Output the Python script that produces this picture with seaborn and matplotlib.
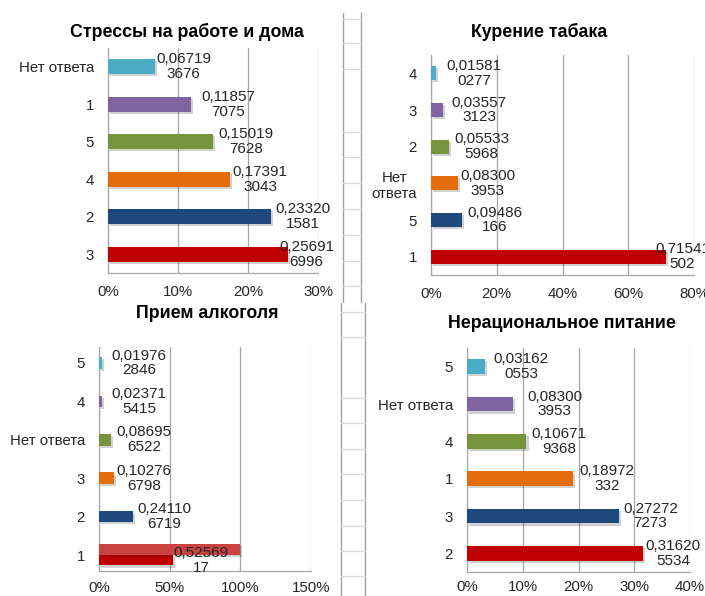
import matplotlib
matplotlib.use('Agg')
import matplotlib.pyplot as plt
import matplotlib.patheffects as pe
from matplotlib.lines import Line2D
from matplotlib.ticker import PercentFormatter
import seaborn as sns

# ---------------- data ----------------
bar_colors = ['#4BACC6', '#8064A2', '#77933C', '#E46C0A', '#1F497D', '#C00000']

stress_title = 'Стрессы на работе и дома'
stress_cats = ['Нет ответа', '1', '5', '4', '2', '3']
stress_vals = [0.067193676, 0.118577075, 0.150197628, 0.173913043, 0.233201581, 0.256916996]
stress_ticks = [0, 0.1, 0.2, 0.3]

smoke_title = 'Курение табака'
smoke_cats = ['4', '3', '2', 'Нет\nответа', '5', '1']
smoke_vals = [0.015810277, 0.035573123, 0.055335968, 0.083003953, 0.09486166, 0.71541502]
smoke_ticks = [0, 0.2, 0.4, 0.6, 0.8]

alco_title = 'Прием алкоголя'
alco_cats = ['5', '4', 'Нет ответа', '3', '2', '1']
alco_vals = [0.019762846, 0.023715415, 0.086956522, 0.102766798, 0.241106719, 0.5256917]
alco_ticks = [0, 0.5, 1.0, 1.5]
alco_extra_cat = '1'
alco_extra_val = 1.0

food_title = 'Нерациональное питание'
food_cats = ['5', 'Нет ответа', '4', '1', '3', '2']
food_vals = [0.031620553, 0.083003953, 0.106719368, 0.18972332, 0.272727273, 0.316205534]
food_ticks = [0, 0.1, 0.2, 0.3, 0.4]

# ---------------- style ----------------
sns.set_style('white')
plt.rcParams['font.family'] = ['Liberation Sans', 'DejaVu Sans']

W, H = 705, 596
fig = plt.figure(figsize=(W / 100, H / 100), dpi=100)
fig.patch.set_facecolor('white')

GRID = '#A6A6A6'
TXT = '#262626'


def px_axes(left, top, right, bottom):
    return fig.add_axes([left / W, 1 - bottom / H, (right - left) / W, (bottom - top) / H])


def label_text(v):
    s = repr(v).replace('.', ',')
    return s[:7] + '\n' + s[7:]


shadow = [pe.SimplePatchShadow(offset=(1.5, -1.5), shadow_rgbFace='k', alpha=0.18), pe.Normal()]

# layout / styling per panel (label gaps in pixels, as placed in the original)
panels = [
    dict(title=stress_title, cats=stress_cats, vals=stress_vals, ticks=stress_ticks,
         box=(108, 48, 318, 273), tpos=(187, 32), bw=0.40, limit=334, xpad=9,
         gaps=[1, 10, 5, 3, 4, 4]),
    dict(title=smoke_title, cats=smoke_cats, vals=smoke_vals, ticks=smoke_ticks,
         box=(431, 55, 694, 275), tpos=(539, 32), bw=0.38, limit=710, xpad=9,
         gaps=[10, 9, 5, 2, 5, 4]),
    dict(title=alco_title, cats=alco_cats, vals=alco_vals, ticks=alco_ticks,
         box=(99, 347, 311, 571), tpos=(207, 313), bw=0.30, limit=360, xpad=7,
         gaps=[10, 9, 5, 3, 4, 0]),
    dict(title=food_title, cats=food_cats, vals=food_vals, ticks=food_ticks,
         box=(467, 348, 690, 572), tpos=(562, 323), bw=0.40, limit=704, xpad=6,
         gaps=[9, 14, 5, 7, 4, 2]),
]

annotations = []
for k, p in enumerate(panels):
    ax = px_axes(*p['box'])
    sns.barplot(x=p['vals'], y=p['cats'], hue=p['cats'], palette=bar_colors,
                legend=False, orient='h', width=p['bw'], saturation=1,
                linewidth=0, edgecolor='none', ax=ax)
    for patch in ax.patches:
        patch.set_path_effects(shadow)
        patch.set_zorder(3)
    ax.set_xlim(p['ticks'][0], p['ticks'][-1])
    ax.set_xticks(p['ticks'])
    ax.xaxis.set_major_formatter(PercentFormatter(1.0, decimals=0))
    ax.set_axisbelow(True)
    ax.grid(axis='x', color=GRID, linewidth=0.9)
    ax.grid(axis='y', visible=False)
    for side in ['top', 'right']:
        ax.spines[side].set_visible(False)
    for side in ['left', 'bottom']:
        ax.spines[side].set_color(GRID)
        ax.spines[side].set_linewidth(0.9)
    ax.tick_params(axis='y', length=0, pad=10, labelsize=10.8, labelcolor=TXT)
    ax.tick_params(axis='x', length=0, pad=p['xpad'], labelsize=10.8, labelcolor=TXT)
    for t in ax.get_yticklabels():
        t.set_multialignment('center')
    ax.set_xlabel('')
    ax.set_ylabel('')
    fig.text(p['tpos'][0] / W, 1 - p['tpos'][1] / H, p['title'], ha='center', va='center',
             fontsize=12.8, fontweight='bold', color='black')

    label_y = {i: i for i in range(len(p['cats']))}
    if k == 2:
        # second (highlight) bar for category "1" in the alcohol chart
        i = p['cats'].index(alco_extra_cat)
        main = ax.patches[i]
        h = 0.27
        main.set_y(i)
        main.set_height(h)
        ax.barh(i - 0.3, alco_extra_val, height=0.3, align='edge', color='#C94343',
                linewidth=0, zorder=3, path_effects=shadow)
        label_y[i] = i + h / 2

    for i, v in enumerate(p['vals']):
        g = p['gaps'][i]
        ann = ax.annotate(label_text(v), xy=(v, label_y[i]), xytext=(g, 0),
                          textcoords='offset pixels', ha='left', va='center',
                          multialignment='center', linespacing=1.08,
                          fontsize=11, color=TXT, zorder=5, annotation_clip=False)
        annotations.append((ann, p['limit'], g))

fig.canvas.draw()
renderer = fig.canvas.get_renderer()
for ann, limit, g in annotations:
    bb = ann.get_window_extent(renderer)
    if bb.x1 > limit:
        ann.xyann = (g - (bb.x1 - limit), 0)

# ------------- spreadsheet strip between the charts -------------
def fline(x0, y0, x1, y1, color, lw):
    fig.add_artist(Line2D([x0 / W, x1 / W], [1 - y0 / H, 1 - y1 / H],
                          transform=fig.transFigure, color=color, linewidth=lw))

V = '#A0A0A0'
Hc = '#D9D9D9'
fline(343, 13, 343, 302, V, 1.0)
fline(361, 13, 361, 302, V, 1.0)
for y in [19, 43, 69, 132, 157, 183, 209, 235, 261, 286]:
    fline(343, y, 361, y, Hc, 0.9)
fline(341, 303, 341, 596, V, 1.0)
fline(365, 303, 365, 596, V, 1.0)
for y in [312, 337, 398, 423, 449, 474, 500, 526, 551, 576]:
    fline(341, y, 365, y, Hc, 0.9)

fig.savefig('out.png', dpi=100, facecolor='white')
